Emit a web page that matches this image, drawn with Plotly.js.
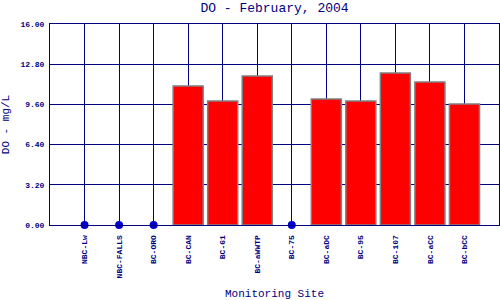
<!DOCTYPE html>
<html><head><meta charset="utf-8">
<script src="https://cdn.plot.ly/plotly-3.0.1.min.js"></script>
<style>body{margin:0;background:#fff}#c{width:500px;height:300px}</style>
</head><body><div id="c"></div>
<script>
var sites = ["NBC-Lw","NBC-FALLS","BC-ORO","BC-CAN","BC-61","BC-aWWTP","BC-75","BC-aDC","BC-95","BC-107","BC-aCC","BC-bCC"];
var doValues = [null,null,null,11.06,9.87,11.86,null,10.03,9.87,12.10,11.38,9.63];
var missingSites = ["NBC-Lw","NBC-FALLS","BC-ORO","BC-75"];
var missingValues = [0,0,0,0];
var yTicks = [0,3.2,6.4,9.6,12.8,16];
var yTickText = ["0.00","3.20","6.40","9.60","12.80","16.00"];

var navy = "#000080";
var mono = "Liberation Mono, DejaVu Sans Mono, monospace";

var traces = [
  {type:"bar", x:sites, y:doValues, width:0.87,
   marker:{color:"#ff0000", line:{color:"#808080", width:1.5}}, hoverinfo:"none"},
  {type:"scatter", mode:"markers", x:missingSites, y:missingValues, cliponaxis:false,
   marker:{color:"#0000cc", size:8}, hoverinfo:"none"}
];
var layout = {
  width:500, height:300, showlegend:false,
  margin:{l:50, r:1, t:24, b:75},
  paper_bgcolor:"#fff", plot_bgcolor:"#fff",
  title:{text:"DO - February, 2004", font:{family:mono, size:13, color:navy}, x:0.549, xanchor:"center", y:0.99, yanchor:"top"},
  xaxis:{type:"category", categoryorder:"array", categoryarray:sites, range:[-1,12],
    showgrid:true, gridcolor:navy, gridwidth:1, showline:true, linecolor:navy, linewidth:1, mirror:true,
    tickangle:-90, tickfont:{family:mono, size:8, color:navy, weight:"bold"}, ticks:"", ticklabelstandoff:6,
    title:{text:"Monitoring Site", font:{family:mono, size:11, color:navy}, standoff:14},
    zeroline:false, fixedrange:true},
  yaxis:{range:[0,16], tickvals:yTicks, ticktext:yTickText,
    showgrid:true, gridcolor:navy, gridwidth:1, showline:true, linecolor:navy, linewidth:1, mirror:true,
    tickfont:{family:mono, size:8, color:navy, weight:"bold"}, ticks:"", ticklabelstandoff:3,
    title:{text:"DO - mg/L", font:{family:mono, size:11, color:navy}, standoff:8},
    zeroline:false, fixedrange:true}
};
Plotly.newPlot("c", traces, layout, {displayModeBar:false, staticPlot:true});
</script></body></html>
